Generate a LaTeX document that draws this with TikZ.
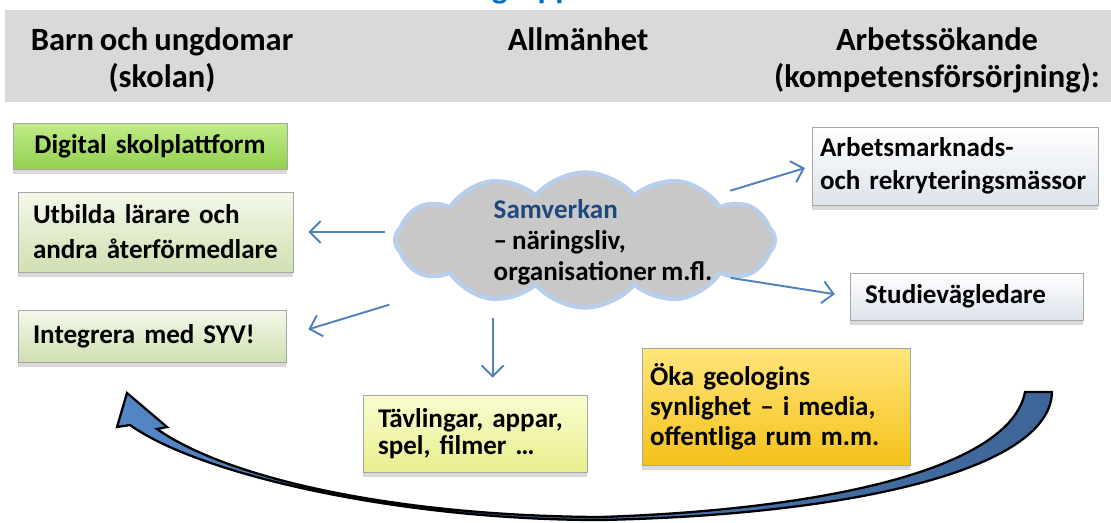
\documentclass[tikz,border=0pt]{standalone}
\usepackage{fontspec}
\setmainfont{Carlito}[WordSpace=0.8]
\usetikzlibrary{shapes, shapes.symbols, arrows.meta, positioning, shadows}

\definecolor{hdrgray}{HTML}{D9D9D9}
\definecolor{titleblue}{HTML}{0070C0}
\definecolor{linkblue}{HTML}{4F81BD}
\definecolor{navy}{HTML}{1F497D}
\definecolor{cloudgray}{HTML}{C8C8C8}
\definecolor{cloudrim}{HTML}{B7CFEB}
\definecolor{digtop}{HTML}{C2EC88}
\definecolor{digbot}{HTML}{92D050}
\definecolor{paletop}{HTML}{F4F8EA}
\definecolor{palebot}{HTML}{CFE0B1}
\definecolor{whitetop}{HTML}{FFFFFF}
\definecolor{whitebot}{HTML}{DDE3EC}
\definecolor{lemontop}{HTML}{FAFCCF}
\definecolor{lemonbot}{HTML}{E9EF8E}
\definecolor{goldtop}{HTML}{FFE57A}
\definecolor{goldbot}{HTML}{F5C21A}
\definecolor{arrowlight}{HTML}{5486C6}
\definecolor{arrowdark}{HTML}{3E6598}

\begin{document}
\begin{tikzpicture}[
	x=0.02cm, y=-0.02cm,
	MyHead/.style={font=\fontsize{18.5}{21.5}\selectfont\bfseries, align=center, anchor=north, inner sep=0pt},
	MyBox/.style={draw=black!35, line width=0.5pt, align=left, inner xsep=0.3cm, inner ysep=0pt,
		font=\fontsize{15.4}{17}\selectfont\bfseries,
		drop shadow={shadow xshift=0pt, shadow yshift=-3pt, opacity=0.3}},
	MyCloud/.style={cloud, cloud puffs=12, cloud puff arc=100, draw=cloudrim, line width=2.5pt,
		fill=cloudgray, minimum width=7.6cm, minimum height=2.7cm},
	MyArrow/.style={-{Straight Barb[length=2.2mm, width=4.4mm]}, draw=linkblue, line width=1.1pt}
	]

\useasboundingbox (0,0) rectangle (1111,522);

% header band
\fill[hdrgray] (5,10) rectangle (1111,102);
\node[font=\fontsize{19}{21}\selectfont\bfseries, text=titleblue, anchor=base, inner sep=0pt] (title) at (520,-2) {Målgrupper};
\node[MyHead] (hdrkids) at (162,27) {Barn och ungdomar\\(skolan)};
\node[MyHead] (hdrpublic) at (578,27) {Allmänhet};
\node[MyHead] (hdrjobs) at (937,27) {Arbetssökande\\(kompetensförsörjning):};

% boxes
\node[MyBox, top color=digtop, bottom color=digbot, text width=4.88cm, align=center, minimum height=0.92cm] (digital) at (150,146) {Digital skolplattform};
\node[MyBox, top color=paletop, bottom color=palebot, text width=4.9cm, minimum height=1.6cm] (teachers) at (155.5,232) {Utbilda lärare och\\[3pt]andra återförmedlare};
\node[MyBox, top color=paletop, bottom color=palebot, text width=4.76cm, minimum height=1.04cm] (syv) at (152,336) {Integrera med SYV!};
\node[MyBox, top color=whitetop, bottom color=whitebot, text width=5.4cm, inner xsep=0.16cm, minimum height=1.56cm] (fairs) at (955,166) {Arbetsmarknads-\\[2pt]och rekryteringsmässor};
\node[MyBox, top color=whitetop, bottom color=whitebot, text width=4.06cm, minimum height=0.94cm] (guidance) at (966.5,296.5) {Studievägledare};
\node[MyBox, top color=lemontop, bottom color=lemonbot, text width=3.88cm, minimum height=1.54cm] (games) at (475,433.5) {Tävlingar, appar,\\[-2pt]spel, filmer …};
\node[MyBox, top color=goldtop, bottom color=goldbot, text width=5.04cm, inner xsep=0.16cm, minimum height=2.34cm] (media) at (776,406.5) {Öka geologins\\synlighet – i media,\\offentliga rum m.m.};

% cloud
\node[MyCloud] (cloud) at (585,240) {};
\node[font=\fontsize{15.4}{17.6}\selectfont\bfseries, align=left] (samverkan) at (603,242) {\textcolor{navy}{Samverkan}\\– näringsliv,\\organisationer m.fl.};

\draw[MyArrow, shorten <=4.5pt, shorten >=8.5pt] (cloud.west |- teachers.east) -- (teachers.east);
\draw[MyArrow, shorten <=40pt, shorten >=13pt] (cloud.199) -- (syv.east);
\draw[MyArrow, shorten <=5pt, shorten >=9.6pt] ([xshift=10pt]games.north |- cloud.south) -- ([xshift=10pt]games.north);
\draw[MyArrow, shorten <=10pt, shorten >=4pt] (cloud.19) -- (fairs.west);
\draw[MyArrow, shorten <=6pt, shorten >=8.5pt] (cloud.-15) -- (guidance.west);

% big curved arrow
\shadedraw[left color=arrowlight, right color=arrowdark, draw=black, line width=1.3pt]
	(1025,392) -- (1052,392)
	.. controls (1050,470) and (850,515) .. (600,520)
	.. controls (400,520) and (200,475) .. (130,425)
	-- (117,427) -- (127,393) -- (167,427) -- (157,429)
	.. controls (230,480) and (400,516) .. (600,517)
	.. controls (820,510) and (1010,470) .. (1025,392) -- cycle;

\end{tikzpicture}
\end{document}
